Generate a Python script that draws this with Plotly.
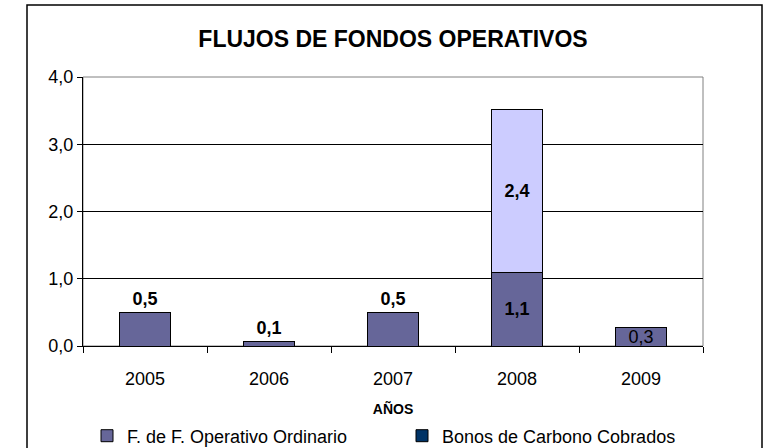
import plotly.graph_objects as go

years = ["2005", "2006", "2007", "2008", "2009"]
ordinario = [0.5, 0.07, 0.5, 1.09, 0.28]
bonos = [None, None, None, 2.42, None]
ordinario_name = "F. de F. Operativo Ordinario"
bonos_name = "Bonos de Carbono Cobrados"
y_ticks = [0, 1, 2, 3, 4]

FONT = "Liberation Sans, Arial, sans-serif"
W, H = 771, 448

fig = go.Figure()
fig.add_trace(go.Bar(
    x=years, y=ordinario, name=ordinario_name, legend="legend",
    marker=dict(color="#666699", line=dict(color="#000000", width=1)),
    width=0.41,
    texttemplate=["<b>%{y:.1f}</b>"] * 4 + ["%{y:.1f}"],
    textposition=["outside", "outside", "outside", "inside", "inside"],
    insidetextanchor="middle",
    constraintext="none", cliponaxis=False,
    textfont=dict(family=FONT, size=18, color="#000000"),
    hoverinfo="skip",
))
fig.add_trace(go.Bar(
    x=years, y=bonos, name=bonos_name, showlegend=False,
    marker=dict(color="#CCCCFF", line=dict(color="#000000", width=1)),
    width=0.41,
    texttemplate="<b>%{y:.1f}</b>", textposition="inside",
    insidetextanchor="middle", constraintext="none",
    textfont=dict(family=FONT, size=18, color="#000000"),
    hoverinfo="skip",
))
# legend entry for second series
fig.add_trace(go.Bar(
    x=[None], y=[None], name=bonos_name, legend="legend2",
    marker=dict(color="#003366", line=dict(color="#000000", width=1)),
))

legend_common = dict(orientation="h", xref="container", yref="container",
                     xanchor="left", y=1 - 436 / H, yanchor="middle",
                     font=dict(size=18), itemwidth=30,
                     bgcolor="rgba(0,0,0,0)", borderwidth=0)

fig.update_layout(
    width=W, height=H,
    barmode="stack",
    separators=",.",
    paper_bgcolor="white", plot_bgcolor="white",
    margin=dict(l=83, r=68, t=77, b=102, autoexpand=False),
    font=dict(family=FONT, size=18, color="#000000"),
    title=dict(text="<b>FLUJOS DE FONDOS OPERATIVOS</b>", x=0.5, xref="paper",
               xanchor="center", y=1 - 39 / H, yanchor="middle",
               font=dict(family=FONT, size=23, color="#000000")),
    xaxis=dict(
        type="category", tickson="boundaries", ticks="outside", ticklen=6,
        tickcolor="#000000", showline=True, linecolor="#000000", linewidth=1,
        tickfont=dict(size=18), ticklabelstandoff=16,
        title=dict(text="<b>AÑOS</b>", font=dict(size=14), standoff=18),
    ),
    yaxis=dict(
        range=[0, 4], tickvals=y_ticks, tickformat=".1f",
        ticks="outside", ticklen=5, tickcolor="#000000",
        showline=True, linecolor="#000000", linewidth=1,
        showgrid=True, gridcolor="#000000", gridwidth=1,
        zeroline=False, tickfont=dict(size=18),
    ),
    legend=dict(x=87 / W, **legend_common),
    legend2=dict(x=402 / W, **legend_common),
    shapes=[
        dict(type="rect", xref="paper", yref="paper", x0=0, x1=1, y0=0, y1=1,
             line=dict(color="#808080", width=1), layer="below"),
        dict(type="rect", xref="paper", yref="paper",
             x0=(27 - 83) / 620, x1=(762 - 83) / 620,
             y0=(346 - 470) / 269, y1=(346 - 5) / 269,
             line=dict(color="#000000", width=1.5), layer="below"),
    ],
)

fig.write_html("out.html", config={"displayModeBar": False},
               post_script="document.body.style.margin='0';")
